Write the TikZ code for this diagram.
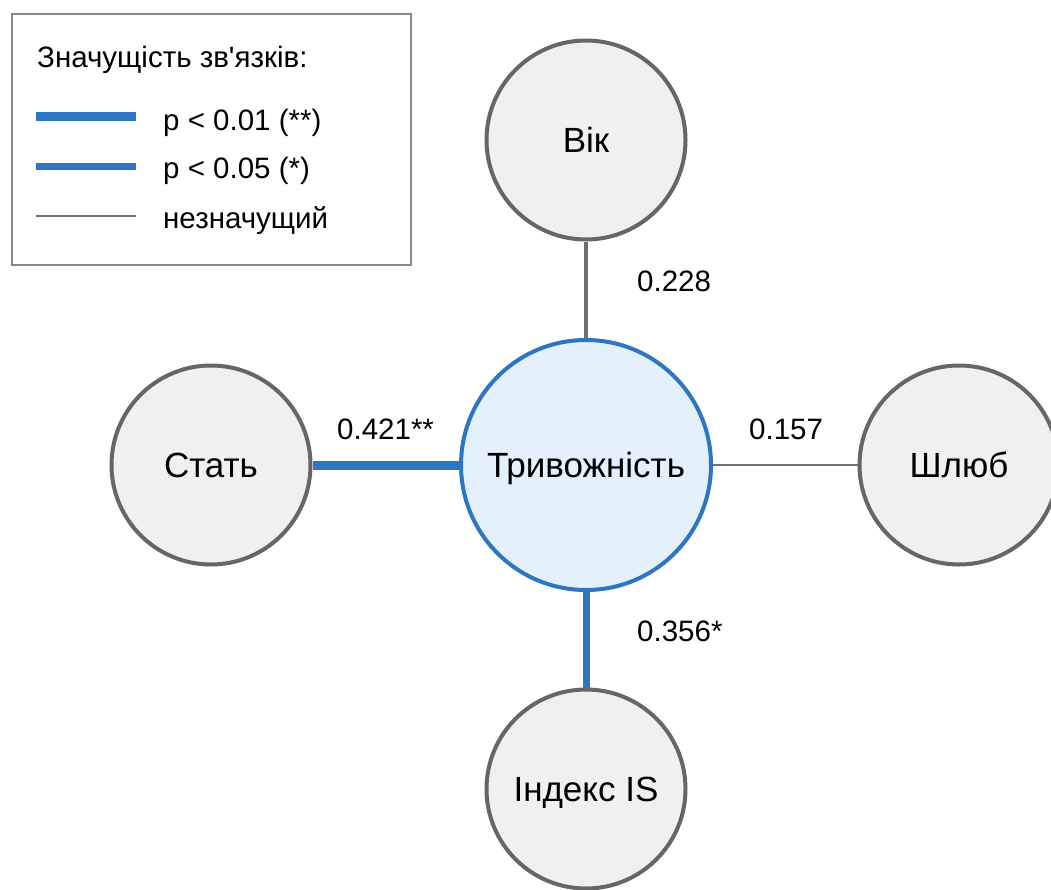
\documentclass[tikz,border=0pt]{standalone}
\usepackage{fontspec}
\setmainfont{Liberation Sans}
\usetikzlibrary{backgrounds}
\definecolor{sigblue}{HTML}{2E75C3}
\definecolor{centerfill}{HTML}{E4F0FC}
\definecolor{nodefill}{HTML}{F0F0F0}
\definecolor{nodeborder}{HTML}{666666}
\definecolor{lineGray}{HTML}{707070}
\definecolor{legborder}{HTML}{888888}
\tikzset{
  var/.style={circle, draw=nodeborder, line width=4pt, fill=nodefill, minimum size=199pt, inner sep=0pt,
    text height=25pt, text depth=0pt, font=\fontsize{35}{42}\selectfont},
  mainvar/.style={var, draw=sigblue, fill=centerfill, minimum size=250pt},
  coef/.style={anchor=base west, inner sep=0pt, font=\fontsize{29.5}{35}\selectfont},
  legtext/.style={anchor=base west, inner sep=0pt, font=\fontsize{29.5}{35}\selectfont},
  strong/.style={draw=sigblue, line width=9pt},
  medium/.style={draw=sigblue, line width=7pt},
  nonsig/.style={draw=lineGray, line width=2pt},
  nonsigmid/.style={draw=lineGray, line width=4.5pt},
}
\begin{document}
\begin{tikzpicture}[x=1pt,y=-1pt]
\useasboundingbox (0,0) rectangle (1051,889);
\clip (0,0) rectangle (1051,889);
% nodes
\node[mainvar] (anx) at (586,465) {Тривожність};
\node[var] (age) at (586,140) {Вік};
\node[var] (sex) at (211,465) {Стать};
\node[var] (mar) at (959,465) {Шлюб};
\node[var] (isx) at (586,789) {Індекс IS};
% connectors
\begin{pgfonlayer}{background}
\draw[nonsigmid] (age) -- (anx);
\draw[strong] (sex) -- (anx);
\draw[nonsig] (anx) -- (mar);
\draw[medium] (anx) -- (isx);
\end{pgfonlayer}
% coefficients
\node[coef] (c1) at (637,291) {0.228};
\node[coef] (c2) at (337,439) {0.421**};
\node[coef] (c3) at (749,439) {0.157};
\node[coef] (c4) at (637,641) {0.356*};
% legend
\draw[legborder, line width=2pt, fill=white] (12,14) rectangle (411,265);
\node[legtext] (lt) at (37,67) {Значущість зв\textquotesingle язків:};
\coordinate (l1a) at (36,116); \coordinate (l1b) at (136,116);
\coordinate (l2a) at (36,166); \coordinate (l2b) at (136,166);
\coordinate (l3a) at (36,216); \coordinate (l3b) at (136,216);
\draw[strong] (l1a) -- (l1b);
\draw[medium] (l2a) -- (l2b);
\draw[nonsig] (l3a) -- (l3b);
\node[legtext] (lg1) at (163,130) {p < 0.01 (**)};
\node[legtext] (lg2) at (163,178) {p < 0.05 (*)};
\node[legtext] (lg3) at (163,228) {незначущий};
\end{tikzpicture}
\end{document}
